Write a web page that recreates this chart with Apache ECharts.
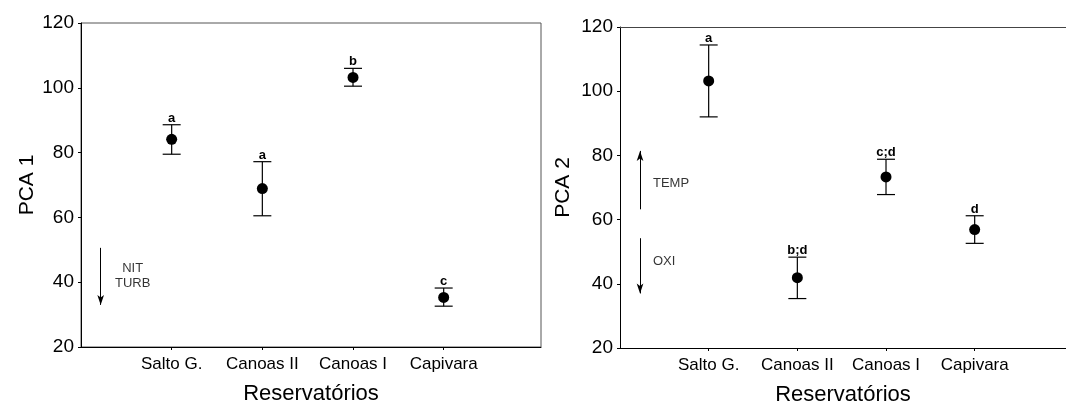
<!DOCTYPE html>
<html>
<head>
<meta charset="utf-8">
<script src="https://cdn.jsdelivr.net/npm/echarts@6/dist/echarts.min.js"></script>
<style>
  html, body { margin: 0; padding: 0; background: #fff; }
  #chart { width: 1066px; height: 403px; }
</style>
</head>
<body>
<div id="chart"></div>
<script>
// Reservoirs along the x axis
const categories = ['Salto G.', 'Canoas II', 'Canoas I', 'Capivara'];
const yTicks = [20, 40, 60, 80, 100, 120];

// PCA 1 scores: mean with lower / upper bounds, plus group letters
const pca1Mean  = [84.1, 68.9, 103.2, 35.3];
const pca1Lower = [79.5, 60.5, 100.5, 32.6];
const pca1Upper = [88.6, 77.2, 106.0, 38.2];
const pca1Groups = ['a', 'a', 'b', 'c'];

// PCA 2 scores
const pca2Mean  = [103.2, 41.9, 73.3, 56.9];
const pca2Lower = [92.0, 35.4, 67.8, 52.6];
const pca2Upper = [114.4, 48.3, 78.8, 61.2];
const pca2Groups = ['a', 'b;d', 'c;d', 'd'];

const FONT = '"Liberation Sans", Arial, sans-serif';
const positions = categories.map((c, i) => i + 1);

function errorData(mean, lo, hi) {
  return categories.map((c, i) => [positions[i], mean[i], lo[i], hi[i]]);
}

function errorBars(gridIndex, data, groups) {
  return {
    type: 'custom',
    xAxisIndex: gridIndex,
    yAxisIndex: gridIndex,
    data: data,
    z: 3,
    renderItem: function (params, api) {
      const x = api.value(0);
      const pLo = api.coord([x, api.value(2)]);
      const pHi = api.coord([x, api.value(3)]);
      const half = 9;
      const st = { stroke: '#000', lineWidth: 1.2 };
      return {
        type: 'group',
        children: [
          { type: 'line', shape: { x1: pHi[0], y1: pHi[1], x2: pLo[0], y2: pLo[1] }, style: st },
          { type: 'line', shape: { x1: pHi[0] - half, y1: pHi[1], x2: pHi[0] + half, y2: pHi[1] }, style: st },
          { type: 'line', shape: { x1: pLo[0] - half, y1: pLo[1], x2: pLo[0] + half, y2: pLo[1] }, style: st },
          {
            type: 'text',
            style: {
              text: groups[params.dataIndex],
              x: pHi[0], y: pHi[1],
              align: 'center', verticalAlign: 'bottom',
              font: 'bold 13px ' + FONT,
              fill: '#000'
            }
          }
        ]
      };
    }
  };
}

function meanDots(gridIndex, mean) {
  return {
    type: 'scatter',
    xAxisIndex: gridIndex,
    yAxisIndex: gridIndex,
    data: categories.map((c, i) => [positions[i], mean[i]]),
    symbol: 'circle',
    symbolSize: 11,
    itemStyle: { color: '#000', opacity: 1 },
    z: 4,
    silent: true
  };
}

function arrowLines(gridIndex, lines) {
  return {
    type: 'scatter',
    xAxisIndex: gridIndex,
    yAxisIndex: gridIndex,
    data: [],
    markLine: {
      silent: true,
      symbol: ['none', 'arrow'],
      symbolSize: [5, 10],
      label: { show: false },
      lineStyle: { color: '#000', width: 1, type: 'solid' },
      data: lines.map(l => [{ coord: l[0] }, { coord: l[1] }])
    }
  };
}

function notes(gridIndex, items, position, align) {
  return {
    type: 'scatter',
    xAxisIndex: gridIndex,
    yAxisIndex: gridIndex,
    data: items,
    symbolSize: 0,
    silent: true,
    label: {
      show: true,
      position: position,
      distance: 0,
      align: align,
      formatter: p => p.value[2],
      fontFamily: FONT,
      fontSize: 13,
      lineHeight: 15,
      color: '#000'
    }
  };
}

function xAxis(gridIndex, max) {
  return {
    type: 'value',
    gridIndex: gridIndex,
    min: 0,
    max: max,
    name: 'Reservatórios',
    nameLocation: 'middle',
    nameGap: 36,
    nameTextStyle: { fontFamily: FONT, fontSize: 22, color: '#000' },
    axisLine: { lineStyle: { color: '#000', width: 1 } },
    axisTick: { show: true, length: 3, customValues: positions, lineStyle: { color: '#000' } },
    axisLabel: {
      customValues: positions,
      margin: 9,
      fontFamily: FONT, fontSize: 17, color: '#000',
      formatter: v => categories[Math.round(v) - 1] || ''
    },
    splitLine: { show: false }
  };
}

// frame line along the top of a panel
function topFrame(gridIndex, max) {
  return {
    type: 'value',
    gridIndex: gridIndex,
    position: 'top',
    min: 0,
    max: max,
    axisLine: { show: true, lineStyle: { color: '#444', width: 1 } },
    axisTick: { show: false },
    axisLabel: { show: false },
    splitLine: { show: false }
  };
}

function yAxis(gridIndex, name, gap) {
  return {
    type: 'value',
    gridIndex: gridIndex,
    min: yTicks[0],
    max: yTicks[yTicks.length - 1],
    interval: 20,
    name: name,
    nameLocation: 'middle',
    nameGap: gap,
    nameTextStyle: { fontFamily: FONT, fontSize: 21, color: '#000' },
    axisLine: { show: true, lineStyle: { color: '#000', width: 1 } },
    axisTick: { show: true, length: 3, lineStyle: { color: '#000' } },
    axisLabel: { margin: 7, fontFamily: FONT, fontSize: 19, color: '#000' },
    splitLine: { show: false }
  };
}

const leftMax = 460 / 90.67;
const rightMax = 446 / 88.67;

const chart = echarts.init(document.getElementById('chart'), null, { renderer: 'canvas' });
chart.setOption({
  animation: false,
  backgroundColor: '#fff',
  grid: [
    { left: 81, top: 23, width: 460, height: 324, outerBoundsMode: 'none', containLabel: false,
      show: true, borderColor: '#555', borderWidth: 1 },
    { left: 620, top: 27, width: 446, height: 321, outerBoundsMode: 'none', containLabel: false,
      show: false }
  ],
  xAxis: [xAxis(0, leftMax), xAxis(1, rightMax), topFrame(1, rightMax)],
  yAxis: [yAxis(0, 'PCA 1', 43), yAxis(1, 'PCA 2', 46)],
  series: [
    errorBars(0, errorData(pca1Mean, pca1Lower, pca1Upper), pca1Groups),
    meanDots(0, pca1Mean),
    arrowLines(0, [[[0.217, 50.6], [0.217, 33.0]]]),
    notes(0, [[0.57, 41.9, 'NIT\nTURB']], 'inside', 'center'),

    errorBars(1, errorData(pca2Mean, pca2Lower, pca2Upper), pca2Groups),
    meanDots(1, pca2Mean),
    arrowLines(1, [[[0.226, 63.2], [0.226, 81.4]], [[0.226, 54.2], [0.226, 37.0]]]),
    notes(1, [[0.372, 71.3, 'TEMP'], [0.372, 47.0, 'OXI']], 'right', 'left')
  ]
});
</script>
</body>
</html>
